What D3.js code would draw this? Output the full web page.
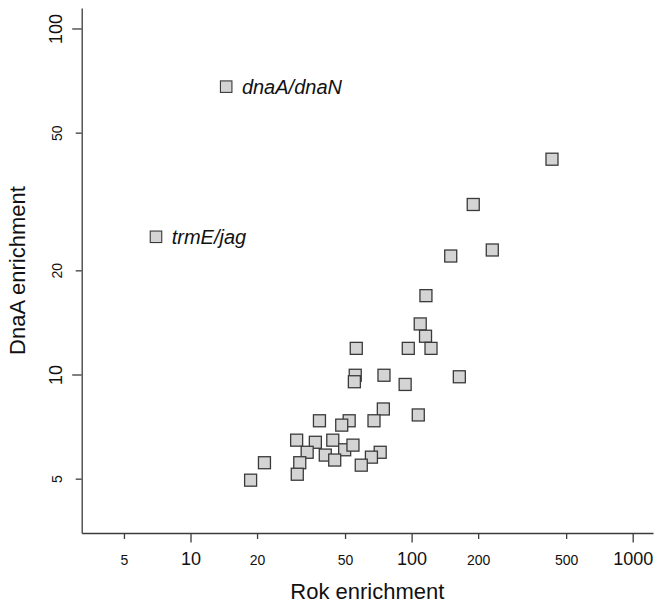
<!DOCTYPE html>
<html>
<head>
<meta charset="utf-8">
<script src="https://cdn.jsdelivr.net/npm/d3@7/dist/d3.min.js"></script>
<style>
  html, body { margin: 0; padding: 0; background: #fff; }
  svg { display: block; font-family: "Liberation Sans", Arial, Helvetica, sans-serif; }
</style>
</head>
<body>
<svg id="chart" width="664" height="610"></svg>
<script>
// ---- Data ----
const rokEnrichment = [431.5, 190, 231.7, 150.3, 116.1, 109.4, 115.6, 122.4, 96.6, 56.2,
  55.6, 55.1, 75.0, 93.5, 164.4, 74.5, 107.2, 67.6, 38.3, 52.2,
  48.3, 30.2, 36.7, 44.0, 33.7, 49.8, 54.3, 40.7, 44.9, 72.1,
  65.8, 59.2, 31.2, 30.4, 21.6, 18.7];
const dnaAEnrichment = [41.9, 31.0, 22.9, 22.0, 16.9, 14.0, 12.9, 11.9, 11.9, 11.9,
  9.95, 9.53, 9.95, 9.36, 9.85, 7.95, 7.64, 7.35, 7.35, 7.35,
  7.14, 6.46, 6.37, 6.46, 5.96, 6.06, 6.25, 5.85, 5.66, 5.96,
  5.77, 5.47, 5.56, 5.15, 5.56, 4.95];
const labelledNames = ["dnaA/dnaN", "trmE/jag"];
const labelledRok = [14.5, 6.98];
const labelledDnaA = [67.9, 25.0];

const xTicks = [5, 10, 20, 50, 100, 200, 500, 1000];
const yTicks = [5, 10, 20, 50, 100];
const majorTicks = [10, 100, 1000];

const xTitle = "Rok enrichment";
const yTitle = "DnaA enrichment";

// ---- Layout ----
const svg = d3.select("#chart");
const mLeft = 81.7, mRight = 653, mTop = 8, mBottom = 533;

const x = d3.scaleLog().domain([3.22, 1235.5]).range([mLeft, mRight]);
const y = d3.scaleLog().domain([3.483, 114.6]).range([mBottom, mTop]);

const axisColor = "#3c3c3c";

// X axis
const gx = svg.append("g").attr("transform", `translate(0,${mBottom})`)
  .call(d3.axisBottom(x).tickValues(xTicks).tickFormat(d3.format("d")).tickSizeOuter(0));
gx.select(".domain").attr("stroke", axisColor).attr("stroke-width", 1.3);
gx.selectAll(".tick line")
  .attr("stroke", axisColor).attr("stroke-width", 1.3)
  .attr("y2", d => majorTicks.includes(d) ? 9.5 : 6);
gx.selectAll(".tick text")
  .attr("fill", "#111")
  .attr("font-family", "Liberation Sans, Arial, sans-serif")
  .attr("font-size", d => majorTicks.includes(d) ? 18 : 14)
  .attr("dy", null)
  .attr("y", 32);

// Y axis
const gy = svg.append("g").attr("transform", `translate(${mLeft},0)`)
  .call(d3.axisLeft(y).tickValues(yTicks).tickFormat(d3.format("d")).tickSizeOuter(0));
gy.select(".domain").attr("stroke", axisColor).attr("stroke-width", 1.3);
gy.selectAll(".tick line")
  .attr("stroke", axisColor).attr("stroke-width", 1.3)
  .attr("x2", d => majorTicks.includes(d) ? -9.5 : -6);
gy.selectAll(".tick text")
  .attr("fill", "#111")
  .attr("font-family", "Liberation Sans, Arial, sans-serif")
  .attr("font-size", d => majorTicks.includes(d) ? 18 : 14)
  .attr("x", null).attr("dy", null)
  .attr("text-anchor", "middle")
  .attr("transform", "translate(-20,0) rotate(-90)");

// Axis titles
svg.append("text")
  .attr("x", (mLeft + mRight) / 2).attr("y", 599)
  .attr("text-anchor", "middle")
  .attr("font-size", 22).attr("fill", "#111")
  .text(xTitle);
svg.append("text")
  .attr("transform", `translate(25,${(mTop + mBottom) / 2}) rotate(-90)`)
  .attr("text-anchor", "middle")
  .attr("font-size", 22).attr("fill", "#111")
  .text(yTitle);

// Points
const pts = rokEnrichment.map((r, i) => ({ r, d: dnaAEnrichment[i] }));
const size = 12;
svg.append("g").selectAll("rect").data(pts).join("rect")
  .attr("x", p => x(p.r) - size / 2)
  .attr("y", p => y(p.d) - size / 2)
  .attr("width", size).attr("height", size)
  .attr("fill", "#d4d4d4")
  .attr("stroke", "#3a3a3a").attr("stroke-width", 1.3);

// Labelled points
const lab = labelledNames.map((n, i) => ({ n, r: labelledRok[i], d: labelledDnaA[i] }));
const lsize = 11.5;
const lg = svg.append("g");
lg.selectAll("rect").data(lab).join("rect")
  .attr("x", p => x(p.r) - lsize / 2)
  .attr("y", p => y(p.d) - lsize / 2)
  .attr("width", lsize).attr("height", lsize)
  .attr("fill", "#d4d4d4")
  .attr("stroke", "#3a3a3a").attr("stroke-width", 1.1);
lg.selectAll("text").data(lab).join("text")
  .attr("x", p => x(p.r) + 15.7)
  .attr("y", p => y(p.d) + 7)
  .attr("font-size", 20).attr("font-style", "italic").attr("fill", "#111")
  .text(p => p.n);
</script>
</body>
</html>
